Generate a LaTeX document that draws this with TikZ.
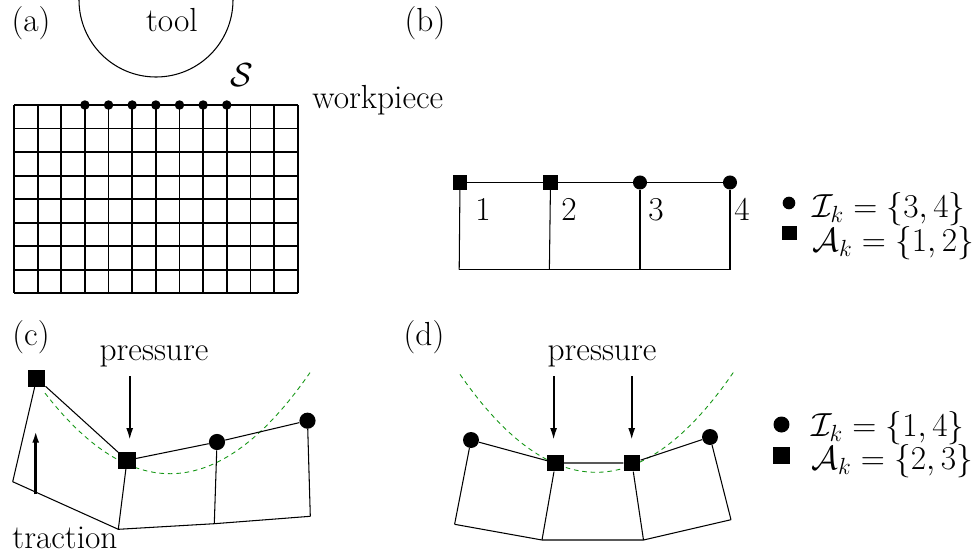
\documentclass[tikz,border=0pt]{standalone}
\usepackage{fix-cm}
\usepackage{amsmath,amssymb,amsfonts}
\usepackage{xcolor}
\usetikzlibrary{arrows.meta, positioning}

\definecolor{contactgreen}{RGB}{20,150,20}
\newcommand{\figfont}{\fontsize{19}{23}\selectfont}

\begin{document}
\begin{tikzpicture}[
    x=0.02cm, y=-0.02cm,
    txt/.style={font=\figfont, inner sep=0pt, anchor=base},
    legend/.style={font=\figfont, inner sep=0pt, anchor=base west},
    mesh/.style={line width=0.6pt},
    gridline/.style={line width=1pt},
    dot/.style={circle, fill=black, inner sep=0pt, minimum size=#1},
    sq/.style={rectangle, fill=black, inner sep=0pt, minimum size=#1},
    arrow/.style={-{Latex[length=2.4mm, width=1.4mm]}, line width=1.1pt},
    contact/.style={contactgreen, line width=0.5pt, dash pattern=on 2.6pt off 2.2pt}
]
\useasboundingbox (0,0) rectangle (975,559);

% (a) tool and workpiece
\node[txt] (lba) at (31,31) {(a)};
\node[txt] (lbb) at (425,31) {(b)};
\node[txt] (tool) at (172,31) {tool};
\draw[mesh] (79,0) arc[start angle=180, end angle=0, radius=77];
\node[font=\figfont, inner sep=0pt] (surf) at (242,75) {$\mathcal{S}$};
\node[legend] (work) at (312,108) {workpiece};
\foreach \i in {0,...,12}
    \draw[gridline] ({14+\i*23.64},105) -- ({14+\i*23.64},293.3);
\foreach \j in {0,...,8}
    \draw[gridline] (14,{105+\j*23.54}) -- (297.7,{105+\j*23.54});
\foreach \i in {3,...,9}
    \node[dot=5.4pt] (a\i) at ({14+\i*23.64},105) {};

% (b) undeformed elements
\node[sq=8pt] (b1) at (460,182.5) {};
\node[sq=8pt] (b2) at (550.5,182.5) {};
\node[dot=8pt] (b3) at (640,182.5) {};
\node[dot=8pt] (b4) at (730,182.5) {};
\coordinate (b5) at (459.2,269.5);
\coordinate (b6) at (549.4,269.5);
\coordinate (b7) at (640,269.5);
\coordinate (b8) at (730,269.5);
\draw[mesh] (b1) -- (b2) -- (b3) -- (b4);
\draw[mesh] (b5) -- (b6) -- (b7) -- (b8);
\draw[mesh] (b1) -- (b5);
\draw[mesh] (b2) -- (b6);
\draw[mesh] (b3) -- (b7);
\draw[mesh] (b4) -- (b8);
\node[txt] (n1) at (483,220) {1};
\node[txt] (n2) at (569,220) {2};
\node[txt] (n3) at (656,220) {3};
\node[txt] (n4) at (742,220) {4};
\node[dot=7.2pt] (b9) at (789,203) {};
\node[sq=8pt] (b10) at (789.5,233) {};
\node[legend] (iset1) at (812,217) {$\mathcal{I}_k=\{3,4\}$};
\node[legend] (aset1) at (812,251) {$\mathcal{A}_k=\{1,2\}$};

% (c) pressure and traction
\node[txt] (lbc) at (31,345) {(c)};
\node[txt] (pc) at (154,360) {pressure};
\node[txt] (trac) at (65,548) {traction};
\draw[contact] plot[domain=45:310, samples=40, smooth] (\x,{473.7-0.00515*(\x-170)*(\x-170)});
\node[sq=9.7pt] (c1) at (36.7,378.3) {};
\node[sq=9.7pt] (c2) at (127,460.3) {};
\node[dot=9.2pt] (c3) at (217,442) {};
\node[dot=9.2pt] (c4) at (307.5,420.7) {};
\coordinate (c5) at (12.7,481.7);
\coordinate (c6) at (118.3,529.3);
\coordinate (c7) at (214.3,523.7);
\coordinate (c8) at (310.3,516.3);
\draw[mesh] (c1) -- (c2) -- (c3) -- (c4);
\draw[mesh] (c5) -- (c6) -- (c7) -- (c8);
\draw[mesh] (c1) -- (c5);
\draw[mesh] (c2) -- (c6);
\draw[mesh] (c3) -- (c7);
\draw[mesh] (c4) -- (c8);
\coordinate (c9) at (129.7,376);
\coordinate (c10) at (129.7,440);
\draw[arrow] (c9) -- (c10);
\coordinate (c11) at (35.7,494.3);
\coordinate (c12) at (35.7,430.7);
\draw[arrow, line width=1.5pt] (c11) -- (c12);

% (d) two active nodes
\node[txt] (lbd) at (424,345) {(d)};
\node[txt] (pd) at (602,360) {pressure};
\draw[contact] plot[domain=460:734, samples=40, smooth] (\x,{472.3-0.0053*(\x-596)*(\x-596)});
\node[dot=9.1pt] (d1) at (471,440) {};
\node[sq=9.4pt] (d2) at (555.5,463) {};
\node[sq=9.4pt] (d3) at (632,463) {};
\node[dot=9.1pt] (d4) at (710,437) {};
\coordinate (d5) at (454.6,524.3);
\coordinate (d6) at (542,540);
\coordinate (d7) at (643.5,540);
\coordinate (d8) at (731,519.7);
\draw[mesh] (d1) -- (d2) -- (d3) -- (d4);
\draw[mesh] (d5) -- (d6) -- (d7) -- (d8);
\draw[mesh] (d1) -- (d5);
\draw[mesh] (d2) -- (d6);
\draw[mesh] (d3) -- (d7);
\draw[mesh] (d4) -- (d8);
\coordinate (d9) at (553.6,376);
\coordinate (d10) at (553.6,440);
\draw[arrow] (d9) -- (d10);
\coordinate (d11) at (631.7,376);
\coordinate (d12) at (631.7,440);
\draw[arrow] (d11) -- (d12);
\node[dot=9.1pt] (d13) at (781.5,424.5) {};
\node[sq=9.4pt] (d14) at (781.5,455.7) {};
\node[legend] (iset2) at (811,436) {$\mathcal{I}_k=\{1,4\}$};
\node[legend] (aset2) at (811,469) {$\mathcal{A}_k=\{2,3\}$};

\end{tikzpicture}
\end{document}
